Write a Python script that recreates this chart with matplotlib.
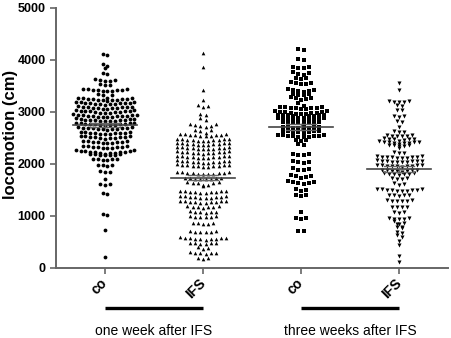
import numpy as np
import matplotlib
matplotlib.use("Agg")
import matplotlib.pyplot as plt
from matplotlib import transforms

plt.rcParams['font.family'] = ['Liberation Sans', 'DejaVu Sans']

categories = ["co", "IFS", "co", "IFS"]
group_labels = ["one week after IFS", "three weeks after IFS"]
yticks = [0, 1000, 2000, 3000, 4000, 5000]

co_1w = [4120, 4100, 3930, 3890, 3840, 3750, 3730,
         3630, 3620, 3610, 3600, 3590, 3530, 3520, 3510,
         3450, 3440, 3435, 3430, 3425, 3420, 3415, 3410, 3405, 3400,
         3340, 3330, 3320,
         3275, 3270, 3265, 3260, 3255, 3250, 3250, 3245, 3240, 3235, 3230, 3225, 3220,
         3195, 3190, 3185, 3180, 3175, 3175, 3170, 3165, 3160, 3155, 3150, 3145, 3140,
         3110, 3105, 3100, 3095, 3090, 3090, 3085, 3080, 3075, 3070, 3065, 3060,
         3035, 3030, 3025, 3020, 3015, 3015, 3010, 3005, 3000, 2995, 2990, 2985, 2980,
         2955, 2950, 2945, 2940, 2935, 2930, 2930, 2925, 2920, 2915, 2910, 2905, 2900, 2895,
         2875, 2870, 2865, 2860, 2855, 2855, 2850, 2845, 2840, 2835, 2830, 2825, 2820,
         2795, 2790, 2785, 2780, 2775, 2770, 2770, 2765, 2760, 2755, 2750, 2745, 2740,
         2710, 2705, 2700, 2695, 2690, 2685, 2685, 2680, 2675, 2670, 2665, 2660,
         2620, 2615, 2610, 2605, 2600, 2600, 2595, 2590, 2585, 2580, 2575,
         2540, 2535, 2530, 2525, 2520, 2515, 2510, 2505, 2500, 2495, 2490,
         2445, 2440, 2435, 2430, 2425, 2420, 2415, 2410, 2405, 2400,
         2350, 2345, 2340, 2335, 2330, 2325, 2320, 2315, 2310, 2305,
         2265, 2260, 2255, 2250, 2245, 2240, 2235, 2230, 2225, 2220, 2215, 2210,
         2200, 2195, 2190, 2185, 2180, 2175, 2170, 2165,
         2105, 2100, 2095, 2090, 2085, 2080,
         1990, 1980, 1975, 1965, 1860, 1850, 1840, 1710,
         1620, 1610, 1600, 1450, 1430, 1030, 1010, 730, 215]

ifs_1w = [4130, 3860, 3430, 3230, 3140, 3120, 3100, 2970, 2950, 2890, 2850,
          2770, 2760, 2750, 2740, 2730, 2720, 2660, 2650, 2640,
          2590, 2585, 2575, 2570, 2565, 2560, 2555, 2550, 2545, 2540, 2530,
          2490, 2485, 2480, 2475, 2470, 2465, 2460, 2455, 2450, 2445, 2440,
          2410, 2405, 2400, 2395, 2390, 2385, 2380, 2375, 2370, 2365, 2360,
          2330, 2325, 2320, 2315, 2310, 2305, 2300, 2295, 2290, 2285, 2280,
          2250, 2245, 2240, 2235, 2230, 2225, 2220, 2215, 2210, 2205, 2200,
          2160, 2155, 2150, 2145, 2140, 2135, 2130, 2125, 2120, 2115, 2110,
          2070, 2065, 2060, 2055, 2050, 2045, 2040, 2035, 2030, 2025, 2020,
          1995, 1990, 1985, 1980, 1975, 1970, 1965, 1960, 1955, 1950, 1945,
          1850, 1845, 1840, 1835, 1830, 1825, 1820, 1815, 1810, 1805, 1800,
          1740, 1735, 1730, 1725, 1720, 1715, 1710, 1705,
          1660, 1650, 1640, 1640, 1630, 1600, 1590, 1580,
          1490, 1485, 1480, 1475, 1470, 1465, 1460, 1455, 1450, 1445,
          1390, 1385, 1380, 1375, 1370, 1365, 1360, 1355, 1350, 1345,
          1295, 1290, 1285, 1280, 1275, 1270, 1265, 1260, 1255, 1250,
          1190, 1185, 1180, 1175, 1170, 1165, 1160,
          1090, 1085, 1080, 1075, 1070, 1065,
          1000, 995, 990, 985, 980, 975,
          870, 865, 860, 855, 850,
          710, 705, 700, 695, 690, 685,
          590, 585, 580, 575, 570, 565, 560, 555, 550, 545,
          490, 485, 480, 475, 470, 465,
          395, 385, 375,
          300, 295, 290, 285, 280, 275,
          200, 190, 180]

co_3w = [4205, 4190, 4020, 4005, 3870, 3860, 3850, 3840, 3760, 3750, 3730, 3720,
         3660, 3650, 3640, 3570, 3560, 3550, 3540, 3530,
         3440, 3430, 3420, 3410, 3400, 3390, 3350, 3340, 3330, 3320,
         3280, 3270, 3260, 3250, 3240, 3170,
         3110, 3100, 3095, 3090, 3085, 3080, 3075, 3070, 3060, 3050,
         3020, 3010, 3005, 3000, 2995, 2990, 2985, 2980, 2970,
         2960, 2955, 2950, 2950, 2945, 2940, 2935, 2930, 2925, 2920,
         2890, 2885, 2880, 2875, 2870, 2865, 2860, 2855, 2850, 2845,
         2820, 2815, 2810, 2805, 2800, 2795, 2790, 2785, 2780, 2775,
         2720, 2715, 2710, 2705, 2700, 2695, 2690, 2685,
         2640, 2635, 2630, 2625, 2620, 2615, 2610, 2605,
         2560, 2555, 2550, 2545, 2540, 2535, 2530, 2525, 2520, 2515,
         2470, 2460, 2450, 2380, 2360,
         2200, 2190, 2180, 2170, 2050, 2040, 2030, 2020, 1920,
         1900, 1890, 1880, 1780, 1770, 1760, 1750, 1740,
         1670, 1660, 1650, 1640, 1630, 1620, 1510, 1500, 1490,
         1410, 1400, 1390, 1080, 970, 960, 940, 720, 710]

ifs_3w = [3550, 3420, 3210, 3205, 3200, 3195, 3190, 3130, 3120, 3040, 3030,
          2930, 2920, 2900, 2820, 2800, 2720, 2630, 2620, 2610,
          2555, 2550, 2545, 2540, 2535, 2530,
          2495, 2490, 2485, 2480, 2475, 2470,
          2440, 2435, 2430, 2425, 2420, 2415, 2410, 2405, 2400,
          2380, 2370, 2365, 2360, 2350, 2340,
          2300, 2230, 2220, 2210,
          2150, 2145, 2140, 2135, 2130, 2130, 2125, 2120, 2115, 2110,
          2070, 2065, 2060, 2055, 2050, 2050, 2045, 2040, 2035, 2030,
          1990, 1985, 1980, 1975, 1970, 1970, 1965, 1960, 1955, 1950,
          1890, 1885, 1880, 1875, 1870, 1865, 1860, 1855,
          1825, 1820, 1815, 1810, 1805, 1800, 1795,
          1740, 1730, 1720, 1710, 1640, 1620, 1590,
          1520, 1515, 1510, 1505, 1500, 1500, 1495, 1490, 1485, 1480,
          1410, 1405, 1400, 1395, 1390,
          1310, 1300, 1295, 1290, 1285, 1280,
          1180, 1175, 1170, 1165, 1080, 1070, 1060,
          960, 955, 950, 945, 940, 900, 860, 850, 840,
          790, 780, 770, 700, 680, 640, 600, 510, 450, 230, 120]

groups = [co_1w, ifs_1w, co_3w, ifs_3w]
markers = ['o', '^', 's', 'v']
msizes = [7.5, 7, 7, 8.5]
row_heights = [70, 75, 70, 60]
spacings_px = [4.9, 5.2, 5.2, 5.0]

W, H, DPI = 4.51, 3.38, 100
fig = plt.figure(figsize=(W, H), dpi=DPI)
ax_left, ax_bottom = 56 / 451, (338 - 268) / 338
ax_w, ax_h = 392 / 451, 260 / 338
ax = fig.add_axes([ax_left, ax_bottom, ax_w, ax_h])
xlim = (-0.5, 3.5)
ylim = (0, 5000)
ax.set_xlim(*xlim)
ax.set_ylim(*ylim)

px_per_x = ax_w * W * DPI / (xlim[1] - xlim[0])


def row_offsets(vals, row_h, dx_px):
    """Prism-like column scatter: bin values into rows, spread each row."""
    arr = np.asarray(vals, float)
    order = np.argsort(-arr, kind='stable')
    offs = np.zeros(len(arr))
    rows = []
    cur = []
    top = None
    for i in order:
        if top is None or top - arr[i] < row_h:
            if top is None:
                top = arr[i]
            cur.append(i)
        else:
            rows.append(cur)
            cur = [i]
            top = arr[i]
    if cur:
        rows.append(cur)
    for r in rows:
        n = len(r)
        slots = []
        lo, hi = 0, n - 1
        while lo <= hi:
            slots.append(lo)
            if hi != lo:
                slots.append(hi)
            lo += 1
            hi -= 1
        for idx, slot in zip(r, slots):
            offs[idx] = (slot - (n - 1) / 2.0) * dx_px / px_per_x
    return offs


for gi, vals in enumerate(groups):
    offs = row_offsets(vals, row_heights[gi], spacings_px[gi])
    ax.scatter(gi + offs, vals, marker=markers[gi], s=msizes[gi],
               color='black', linewidths=0, zorder=3)
    arr = np.asarray(vals, float)
    m = arr.mean()
    sem = arr.std(ddof=1) / np.sqrt(len(arr))
    ax.plot([gi - 0.33, gi + 0.33], [m, m], color='#444444', lw=1.2, zorder=4)
    ax.plot([gi - 0.15, gi + 0.15], [m - sem, m - sem], color='#666666', lw=1.0, zorder=4)
    ax.plot([gi - 0.15, gi + 0.15], [m + sem, m + sem], color='#666666', lw=1.0, zorder=4)
    ax.plot([gi, gi], [m - sem, m + sem], color='#666666', lw=1.0, zorder=4)

for s in ['top', 'right']:
    ax.spines[s].set_visible(False)
for s in ['left', 'bottom']:
    ax.spines[s].set_color('#666666')
    ax.spines[s].set_linewidth(1.4)

ax.set_yticks(yticks)
ax.set_yticklabels([str(t) for t in yticks], fontsize=9, fontweight='bold')
ax.set_xticks(range(len(categories)))
ax.set_xticklabels(categories, fontsize=10, fontweight='bold', rotation=45,
                   ha='right', va='center', rotation_mode='anchor')
ax.tick_params(axis='both', direction='out', length=4, width=1.2, color='#666666')
ax.tick_params(axis='x', pad=5)

ax.set_ylabel('locomotion (cm)', fontsize=12, fontweight='bold')
ax.yaxis.set_label_coords(-0.098, 0.515)

trans = transforms.blended_transform_factory(ax.transData, ax.transAxes)
for k, lab in enumerate(group_labels):
    x0, x1 = 2 * k, 2 * k + 1
    ax.plot([x0, x1], [-0.155, -0.155], color='black', lw=2.4,
            transform=trans, clip_on=False, solid_capstyle='butt')
    ax.text((x0 + x1) / 2, -0.243, lab, transform=trans, ha='center',
            va='center', fontsize=10)

fig.savefig('out.png', dpi=DPI)
